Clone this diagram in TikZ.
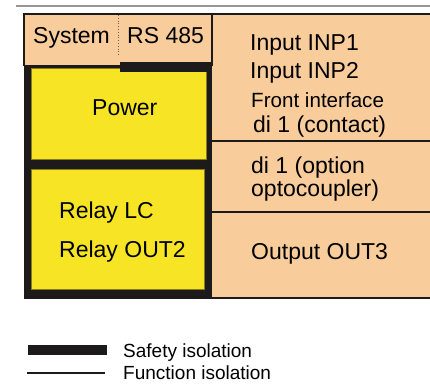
\documentclass[tikz,border=0pt]{standalone}
\usepackage{fontspec}
\setmainfont{Liberation Sans}
\definecolor{peach}{RGB}{249,205,155}
\definecolor{yel}{RGB}{247,228,37}
\definecolor{blk}{RGB}{28,26,27}
\definecolor{gline}{RGB}{150,150,150}
\begin{document}
\begin{tikzpicture}[x=1pt,y=-1pt,
  lbl/.style={inner sep=0pt,anchor=base west,font=\fontsize{23}{26}\selectfont},
  slbl/.style={inner sep=0pt,anchor=base west,font=\fontsize{20.6}{24}\selectfont},
  leg/.style={inner sep=0pt,anchor=base west,font=\fontsize{19}{22}\selectfont},
  frame/.style={draw=blk,line width=1.6pt},
  ybox/.style={fill=yel,draw=yel!55!black,line width=0.6pt}]
\useasboundingbox (0,0) rectangle (430,383);
% top gray rule
\draw[gline,line width=1.5pt] (16,6) -- (430,6);
% background
\fill[peach] (24,14) rectangle (430,298);
% black column
\fill[blk] (24,65) rectangle (212,299);
% yellow boxes
\filldraw[ybox] (31,68) rectangle (206,159);
\filldraw[ybox] (31,169) rectangle (204,289);
% safety bar
\fill[blk] (120,62) rectangle (212,72);
% frame lines
\draw[frame,line width=2pt] (23,14) -- (430,14);
\draw[frame] (24,14) -- (24,66);
\draw[frame] (212,14) -- (212,66);
\draw[frame] (212,141) -- (430,141);
\draw[frame] (212,212) -- (430,212);
\draw[frame,line width=2pt] (212,298) -- (430,298);
\draw[blk!70,line width=0.8pt,dotted] (118,15) -- (118,55);
% texts
\node[lbl] (sys) at (33,43) {System};
\node[lbl] (rs) at (127,43) {RS 485};
\node[lbl] (pow) at (92,115) {Power};
\node[lbl] (rlc) at (59,218) {Relay LC};
\node[lbl] (rout) at (59,257) {Relay OUT2};
\node[lbl] (inp1) at (250,50) {Input INP1};
\node[lbl] (inp2) at (250,78) {Input INP2};
\node[slbl] (front) at (251,107) {Front interface};
\node[lbl] (dic) at (253,132) {di 1 (contact)};
\node[lbl,align=left,font=\fontsize{23}{20.5}\selectfont] (dio) at (251,196) {di 1 (option\\optocoupler)};
\node[lbl] (out3) at (251,259) {Output OUT3};
% legend
\fill[blk] (28,345) rectangle (107,355);
\draw[blk,line width=1.6pt] (27,373) -- (105,373);
\node[leg] (safe) at (123,357) {Safety isolation};
\node[leg] (func) at (123,379.5) {Function isolation};
\end{tikzpicture}
\end{document}
